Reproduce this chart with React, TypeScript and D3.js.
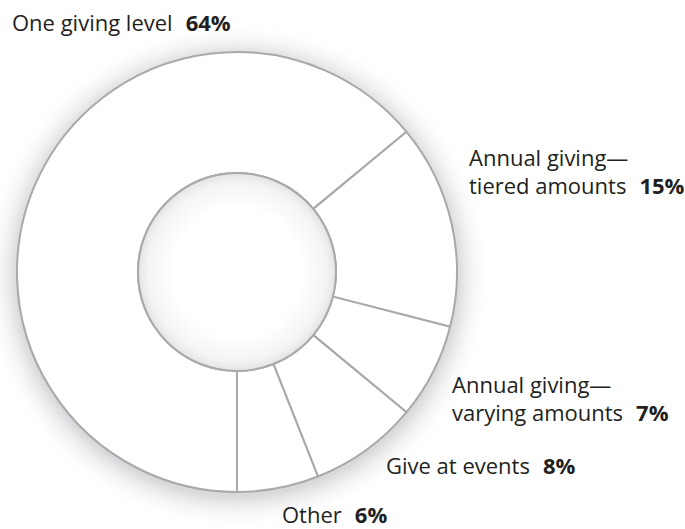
import React from "react";
import * as d3 from "d3";

const categories = [
  "One giving level",
  "Annual giving—tiered amounts",
  "Annual giving—varying amounts",
  "Give at events",
  "Other",
];
const shares = [64, 15, 7, 8, 6];
const labelLines = [
  ["One giving level"],
  ["Annual giving—", "tiered amounts"],
  ["Annual giving—", "varying amounts"],
  ["Give at events"],
  ["Other"],
];

// layout (label anchor positions: x of line start, baseline of first line)
const labelLayout = [
  { x: 12, y: 31 },
  { x: 469, y: 166 },
  { x: 452, y: 393 },
  { x: 386, y: 474 },
  { x: 282, y: 523 },
];

const W = 685;
const H = 529;
const cx = 237;
const cy = 272;
const R = 220;
const r = 99;
const FONT = "'Open Sans', 'Noto Sans', sans-serif";
const STROKE = "#a9a9ab";

export default function App() {
  const pie = d3
    .pie<number>()
    .sort(null)
    .value((d) => d)
    .startAngle(Math.PI)
    .endAngle(3 * Math.PI);
  const arcs = pie(shares);
  const arc = d3.arc<d3.PieArcDatum<number>>().innerRadius(r).outerRadius(R);

  return (
    <svg
      width={W}
      height={H}
      style={{ position: "absolute", left: 0, top: 0, background: "#fff" }}
    >
      <defs>
        <radialGradient id="outerShadow" cx="0.5" cy="0.5" r="0.5">
          <stop offset={R / (R + 34)} stopColor="#d9d9db" stopOpacity={1} />
          <stop offset={(R + 12) / (R + 34)} stopColor="#ececed" stopOpacity={0.8} />
          <stop offset="1" stopColor="#ffffff" stopOpacity={0} />
        </radialGradient>
        <radialGradient id="innerShade" cx="0.5" cy="0.5" r="0.5">
          <stop offset="0.65" stopColor="#ffffff" />
          <stop offset="0.9" stopColor="#f4f4f5" />
          <stop offset="1" stopColor="#e4e4e6" />
        </radialGradient>
      </defs>
      <circle cx={cx} cy={cy + 4} r={R + 34} fill="url(#outerShadow)" />
      <g transform={`translate(${cx},${cy})`}>
        {arcs.map((a, i) => (
          <path
            key={categories[i]}
            d={arc(a) || ""}
            fill="#ffffff"
            stroke={STROKE}
            strokeWidth={2}
            strokeLinejoin="round"
          />
        ))}
        <circle r={r} fill="url(#innerShade)" stroke={STROKE} strokeWidth={2} />
      </g>
      {labelLines.map((lines, i) => (
        <text
          key={categories[i]}
          x={labelLayout[i].x}
          y={labelLayout[i].y}
          fontFamily={FONT}
          fontSize={22}
          fill="#231f20"
        >
          {lines.map((ln, j) => (
            <tspan key={j} x={labelLayout[i].x} dy={j === 0 ? 0 : 27.5}>
              {ln}
              {j === lines.length - 1 ? (
                <tspan fontWeight="bold" dx={13}>{`${shares[i]}%`}</tspan>
              ) : null}
            </tspan>
          ))}
        </text>
      ))}
    </svg>
  );
}
